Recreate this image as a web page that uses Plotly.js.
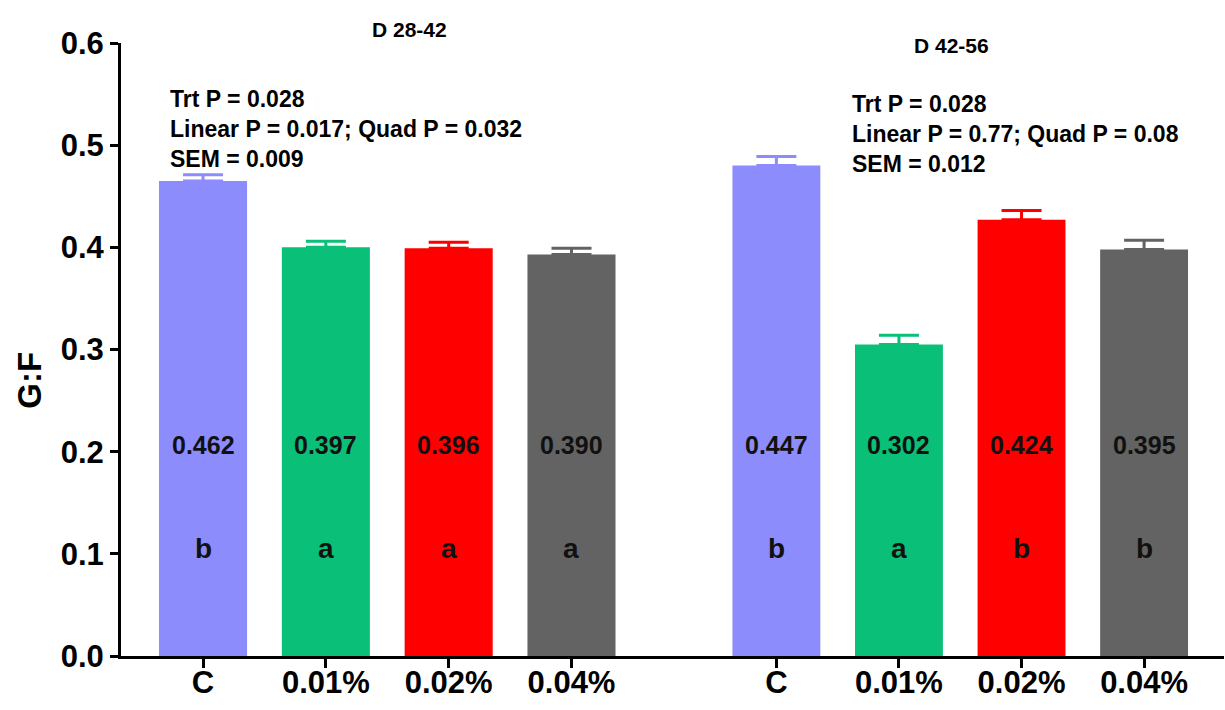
<!DOCTYPE html>
<html>
<head>
<meta charset="utf-8">
<script src="https://cdn.plot.ly/plotly-3.0.1.min.js"></script>
<style>html,body{margin:0;padding:0;background:#fff;}#chart{width:1225px;height:710px;}</style>
</head>
<body>
<div id="chart"></div>
<script>
// ---- data ----
const treatments = ["C", "0.01%", "0.02%", "0.04%"];
const periods = ["D 28-42", "D 42-56"];
const barColors = ["#8c8cfc", "#0abf78", "#ff0000", "#636363"];

// bar heights and upper SEM error
const gfPeriod1 = [0.465, 0.400, 0.399, 0.393];
const errPeriod1 = [0.006, 0.006, 0.006, 0.006];
const gfPeriod2 = [0.480, 0.305, 0.427, 0.398];
const errPeriod2 = [0.009, 0.009, 0.009, 0.009];

// printed labels inside bars
const valueLabels1 = ["0.462", "0.397", "0.396", "0.390"];
const valueLabels2 = ["0.447", "0.302", "0.424", "0.395"];
const letters1 = ["b", "a", "a", "a"];
const letters2 = ["b", "a", "b", "b"];

const stats1 = ["Trt P = 0.028", "Linear P = 0.017; Quad P = 0.032", "SEM = 0.009"];
const stats2 = ["Trt P = 0.028", "Linear P = 0.77; Quad P = 0.08", "SEM = 0.012"];

const yTicks = [0, 0.1, 0.2, 0.3, 0.4, 0.5, 0.6];
const yTickText = ["0.0", "0.1", "0.2", "0.3", "0.4", "0.5", "0.6"];

// ---- build ----
const FONT = "Liberation Sans, Arial, sans-serif";
const series = [
  {vals: gfPeriod1, errs: errPeriod1, xa: "x", labels: valueLabels1, letters: letters1},
  {vals: gfPeriod2, errs: errPeriod2, xa: "x2", labels: valueLabels2, letters: letters2}
];

const traces = [];
const annotations = [];
series.forEach((s) => {
  treatments.forEach((t, i) => {
    traces.push({
      type: "bar",
      x: [t],
      y: [s.vals[i]],
      xaxis: s.xa,
      yaxis: "y",
      marker: {color: barColors[i], line: {width: 0}},
      error_y: {type: "data", symmetric: false, array: [s.errs[i]], arrayminus: [0],
                color: barColors[i], thickness: 3, width: 20},
      hoverinfo: "x+y",
      showlegend: false
    });
    annotations.push({
      xref: s.xa, yref: "y", x: t, y: 0.207, text: s.labels[i], showarrow: false,
      xanchor: "center", yanchor: "middle",
      font: {family: FONT, size: 25, color: "#111", weight: "bold"}
    });
    annotations.push({
      xref: s.xa, yref: "y", x: t, y: 0.105, text: s.letters[i], showarrow: false,
      xanchor: "center", yanchor: "middle",
      font: {family: FONT, size: 28, color: "#111", weight: "bold"}
    });
  });
});

// period titles
annotations.push({xref: "paper", yref: "paper", x: 0.262, y: 1.022, text: periods[0], showarrow: false,
  xanchor: "center", yanchor: "middle", font: {family: FONT, size: 21, color: "#000", weight: "bold"}});
annotations.push({xref: "paper", yref: "paper", x: 0.7525, y: 0.996, text: periods[1], showarrow: false,
  xanchor: "center", yanchor: "middle", font: {family: FONT, size: 21, color: "#000", weight: "bold"}});

// stats blocks
annotations.push({xref: "paper", yref: "y", x: 0.043, y: 0.516, text: stats1.join("<br>"), showarrow: false,
  xanchor: "left", yanchor: "middle", align: "left",
  font: {family: FONT, size: 23, color: "#000", weight: "bold"}});
annotations.push({xref: "paper", yref: "y", x: 0.661, y: 0.511, text: stats2.join("<br>"), showarrow: false,
  xanchor: "left", yanchor: "middle", align: "left",
  font: {family: FONT, size: 23, color: "#000", weight: "bold"}});

// y axis title
annotations.push({xref: "paper", yref: "paper", x: -0.0825, y: 0.449, text: "G:F", showarrow: false,
  textangle: -90, xanchor: "center", yanchor: "middle",
  font: {family: FONT, size: 33, color: "#000", weight: "bold"}});

const split = 0.5014;
const xCommon = {
  type: "category", categoryorder: "array", categoryarray: treatments,
  showline: true, linecolor: "#000", linewidth: 3,
  ticks: "outside", ticklen: 9, tickwidth: 3, tickcolor: "#000",
  ticklabelstandoff: -12,
  showgrid: false, zeroline: false, fixedrange: true,
  tickfont: {family: FONT, size: 31, color: "#000", weight: "bold"},
  anchor: "y"
};

const layout = {
  width: 1225, height: 710,
  margin: {l: 121, r: 1, t: 43, b: 54, pad: 0},
  paper_bgcolor: "#fff", plot_bgcolor: "#fff",
  barmode: "overlay", bargap: 0.283,
  showlegend: false,
  font: {family: FONT, color: "#000"},
  xaxis: Object.assign({}, xCommon, {domain: [0, split], range: [-0.668, 3.835]}),
  xaxis2: Object.assign({}, xCommon, {domain: [split, 1], range: [-0.835, 3.652]}),
  yaxis: {
    range: [0, 0.6], tickvals: yTicks, ticktext: yTickText,
    showline: true, linecolor: "#000", linewidth: 3,
    ticks: "outside", ticklen: 8, tickwidth: 3, tickcolor: "#000",
    showgrid: false, zeroline: false, fixedrange: true,
    tickfont: {family: FONT, size: 31, color: "#000", weight: "bold"}
  },
  annotations: annotations
};

Plotly.newPlot("chart", traces, layout, {displayModeBar: false, staticPlot: true});
</script>
</body>
</html>
